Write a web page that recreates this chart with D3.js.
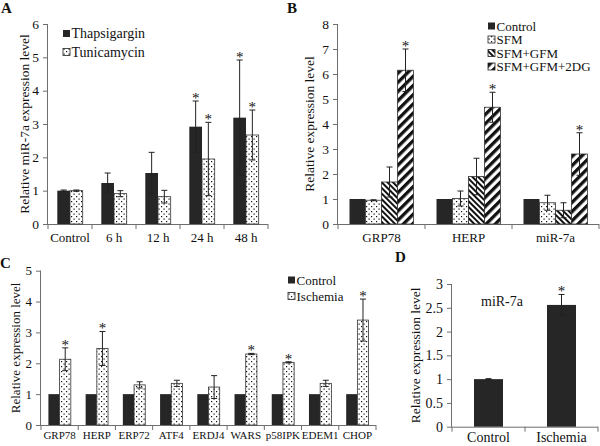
<!DOCTYPE html>
<html><head><meta charset="utf-8">
<script src="https://cdn.jsdelivr.net/npm/d3@7"></script>
<style>body{margin:0;background:#fff}svg{display:block}text{font-family:"Liberation Serif","Times New Roman",serif;fill:#111}</style>
</head><body><svg id="c" width="600" height="446"></svg>
<script>
// ---- Data ----
const aCategories = ["Control","6 h","12 h","24 h","48 h"];
const aSeries = ["Thapsigargin","Tunicamycin"];
const aThaps = [1.0, 1.23, 1.53, 2.92, 3.19];
const aThapsErr = [0.02, 0.30, 0.62, 0.77, 1.73];
const aTunic = [1.0, 0.91, 0.82, 1.95, 2.67];
const aTunicErr = [0.02, 0.09, 0.19, 1.10, 0.75];
const aStars = [[false,false,false,true,true],[false,false,false,true,true]];
const aTicks = [0,1,2,3,4,5,6];

const bCategories = ["GRP78","HERP","miR-7a"];
const bSeries = ["Control","SFM","SFM+GFM","SFM+GFM+2DG"];
const bControl = [1.0, 1.0, 1.0];
const bControlErr = [0, 0, 0];
const bSFM = [0.95, 1.02, 0.85];
const bSFMErr = [0.02, 0.30, 0.30];
const bGFM = [1.68, 1.90, 0.55];
const bGFMErr = [0.60, 0.73, 0.30];
const b2DG = [6.15, 4.67, 2.80];
const b2DGErr = [0.85, 0.60, 0.85];
const bTicks = [0,1,2,3,4,5,6,7,8];

const cCategories = ["GRP78","HERP","ERP72","ATF4","ERDJ4","WARS","p58IPK","EDEM1","CHOP"];
const cSeries = ["Control","Ischemia"];
const cControl = [1,1,1,1,1,1,1,1,1];
const cIschemia = [2.13, 2.48, 1.30, 1.35, 1.23, 2.30, 2.03, 1.35, 3.40];
const cIschemiaErr = [0.37, 0.55, 0.10, 0.10, 0.37, 0.02, 0.02, 0.10, 0.68];
const cStars = [true, true, false, false, false, true, true, false, true];
const cTicks = [0,1,2,3,4,5];

const dCategories = ["Control","Ischemia"];
const dValues = [1.0, 2.56];
const dErr = [0.01, 0.22];
const dStars = [false, true];
const dTicks = [0,0.5,1,1.5,2,2.5,3];

// ---- Drawing ----
const FONT = '"Liberation Serif","Times New Roman",serif';
const svg = d3.select("#c");
const defs = svg.append("defs");
function dots(id){
  const p = defs.append("pattern").attr("id",id).attr("patternUnits","userSpaceOnUse").attr("width",5).attr("height",5);
  p.append("rect").attr("width",5).attr("height",5).attr("fill","#fff");
  p.append("rect").attr("x",1).attr("y",1).attr("width",1.2).attr("height",1.2).attr("fill","#111");
  p.append("rect").attr("x",3.5).attr("y",3.5).attr("width",1.2).attr("height",1.2).attr("fill","#111");
}
function hatch(id, size, sw, dir){
  const p = defs.append("pattern").attr("id",id).attr("patternUnits","userSpaceOnUse")
    .attr("width",size).attr("height",size).attr("patternTransform",`rotate(${dir})`);
  p.append("rect").attr("width",size).attr("height",size).attr("fill","#fff");
  p.append("rect").attr("x",0).attr("y",0).attr("width",sw).attr("height",size).attr("fill","#111");
}
dots("dots");
hatch("hatchBack", 4, 2, -45);
hatch("hatchFwd", 6.5, 3.3, 45);

const AX = "#6e6e6e";
function panel(o){
  const g = svg.append("g");
  const y = d3.scaleLinear().domain(o.yDomain).range([o.y0, o.y1]);
  const x0 = d3.scaleBand().domain(o.categories).range([o.x0, o.x1]);
  const bw = x0.bandwidth();
  const nb = o.series.length;
  const inner = d3.scaleBand().domain(o.series)
    .range([(bw - nb*o.barW)/2, (bw + nb*o.barW)/2]);
  // y axis
  const ya = d3.axisLeft(y).tickValues(o.ticks).tickSize(5).tickPadding(4).tickFormat(o.fmt || d3.format("~g"));
  const yg = g.append("g").attr("transform",`translate(${o.x0},0)`).call(ya);
  yg.attr("font-family",null);
  yg.select(".domain").attr("stroke",AX).attr("d",`M-0.5,${o.y0}V${o.y1}`);
  yg.selectAll(".tick line").attr("stroke",AX);
  yg.selectAll("text").style("font-size",o.tickFont+"px").style("fill","#111").style("font-family",FONT);
  // x axis (labels)
  const xa = d3.axisBottom(x0).tickSize(0).tickPadding(o.xPad);
  const xg = g.append("g").attr("transform",`translate(0,${o.y0})`).call(xa);
  xg.attr("font-family",null);
  xg.select(".domain").attr("stroke",AX).attr("d",`M${o.x0},0.5H${o.x1}`);
  xg.selectAll("text").style("font-size",o.xFont+"px").style("fill","#111").style("font-family",FONT);
  // boundary ticks
  const bounds = d3.range(o.categories.length+1).map(i => o.x0 + i*bw);
  g.selectAll(".bt").data(bounds).join("line")
    .attr("x1",d=>d).attr("x2",d=>d).attr("y1",o.y0).attr("y2",o.y0+5).attr("stroke",AX);
  // bars
  o.series.forEach((s,si)=>{
    const vals = o.values[si], errs = o.errors[si], stars = o.stars ? o.stars[si] : null;
    const fill = o.fills[si];
    const sg = g.append("g");
    sg.selectAll("rect").data(o.categories).join("rect")
      .attr("x",(c)=>x0(c)+inner(s))
      .attr("y",(c,i)=>y(vals[i]))
      .attr("width",inner.bandwidth())
      .attr("height",(c,i)=>y(0)-y(vals[i]))
      .attr("fill",fill)
      .attr("stroke", fill.startsWith("url") ? "#333" : "none")
      .attr("stroke-width",0.8);
    // error bars
    const eg = g.append("g");
    o.categories.forEach((c,i)=>{
      if (!errs[i]) return;
      const cx = x0(c)+inner(s)+inner.bandwidth()/2;
      const yt = y(vals[i]+errs[i]), yb = y(vals[i]-errs[i]);
      eg.append("line").attr("x1",cx).attr("x2",cx).attr("y1",yt).attr("y2",yb).attr("stroke","#222").attr("stroke-width",1);
      eg.append("line").attr("x1",cx-3).attr("x2",cx+3).attr("y1",yt).attr("y2",yt).attr("stroke","#222").attr("stroke-width",1);
      eg.append("line").attr("x1",cx-3).attr("x2",cx+3).attr("y1",yb).attr("y2",yb).attr("stroke","#222").attr("stroke-width",1);
    });
    if (stars){
      o.categories.forEach((c,i)=>{
        if (!stars[i]) return;
        const cx = x0(c)+inner(s)+inner.bandwidth()/2;
        g.append("text").attr("x",cx).attr("y",y(vals[i]+errs[i])+2).attr("text-anchor","middle")
          .attr("font-size",15).text("*");
      });
    }
  });
  // y title
  g.append("text").attr("transform",`translate(${o.titleX},${(o.y0+o.y1)/2}) rotate(-90)`)
    .attr("text-anchor","middle").attr("dominant-baseline","central").attr("font-size",o.titleFont).text(o.title);
  // panel letter
  g.append("text").attr("x",o.letter[0]).attr("y",o.letter[1]).attr("font-weight","bold").attr("font-size",15).text(o.letter[2]);
  // legend
  if (o.legend){
    const L = o.legend;
    o.series.forEach((s,si)=>{
      const ly = L.y + si*L.dy;
      g.append("rect").attr("x",L.x).attr("y",ly-L.sw/2).attr("width",L.sw).attr("height",L.sw)
        .attr("fill",o.fills[si]).attr("stroke", o.fills[si].startsWith("url") ? "#222":"none").attr("stroke-width",0.8);
      g.append("text").attr("x",L.x+L.sw+1.5).attr("y",ly).attr("dominant-baseline","central").attr("font-size",L.font).text(s);
    });
  }
  return {g,x0,y};
}

panel({categories:aCategories, series:aSeries, values:[aThaps,aTunic], errors:[aThapsErr,aTunicErr], stars:aStars,
  fills:["#262626","url(#dots)"], x0:48, x1:268, y0:224, y1:24, yDomain:[0,6], ticks:aTicks, barW:12.7,
  tickFont:13.5, xFont:13, xPad:9, title:"Relative miR-7a expression level", titleX:24, titleFont:13.5,
  letter:[1,13,"A"], legend:{x:63,y:33.5,dy:18.5,sw:7,font:14}});

panel({categories:bCategories, series:bSeries, values:[bControl,bSFM,bGFM,b2DG], errors:[bControlErr,bSFMErr,bGFMErr,b2DGErr],
  stars:[[false,false,false],[false,false,false],[false,false,false],[true,true,true]],
  fills:["#262626","url(#dots)","url(#hatchBack)","url(#hatchFwd)"], x0:338, x1:599, y0:224, y1:24, yDomain:[0,8], ticks:bTicks, barW:16,
  tickFont:13.5, xFont:13, xPad:9, title:"Relative expression level", titleX:309, titleFont:13.5,
  letter:[287,13,"B"], legend:{x:488,y:26,dy:13.5,sw:7,font:13}});

panel({categories:cCategories, series:cSeries, values:[cControl,cIschemia], errors:[[0,0,0,0,0,0,0,0,0],cIschemiaErr],
  stars:[[false,false,false,false,false,false,false,false,false],cStars],
  fills:["#262626","url(#dots)"], x0:41, x1:376, y0:425, y1:270.7, yDomain:[0,5], ticks:cTicks, barW:11.2,
  tickFont:13, xFont:11, xPad:6, title:"Relative expression level", titleX:15, titleFont:13,
  letter:[0,268,"C"], legend:{x:288,y:280,dy:16,sw:7,font:13}});

const pd = panel({categories:dCategories, series:["miR-7a"], values:[dValues], errors:[dErr], stars:[dStars],
  fills:["#262626"], x0:452, x1:598, y0:426.7, y1:284, yDomain:[0,3], ticks:dTicks, barW:29,
  tickFont:14, xFont:14, xPad:5, title:"Relative expression level", titleX:415, titleFont:13.5,
  letter:[395,262,"D"], legend:null});
pd.g.append("text").attr("x",502).attr("y",301).attr("text-anchor","middle").attr("dominant-baseline","central").attr("font-size",14).text("miR-7a");
</script></body></html>
